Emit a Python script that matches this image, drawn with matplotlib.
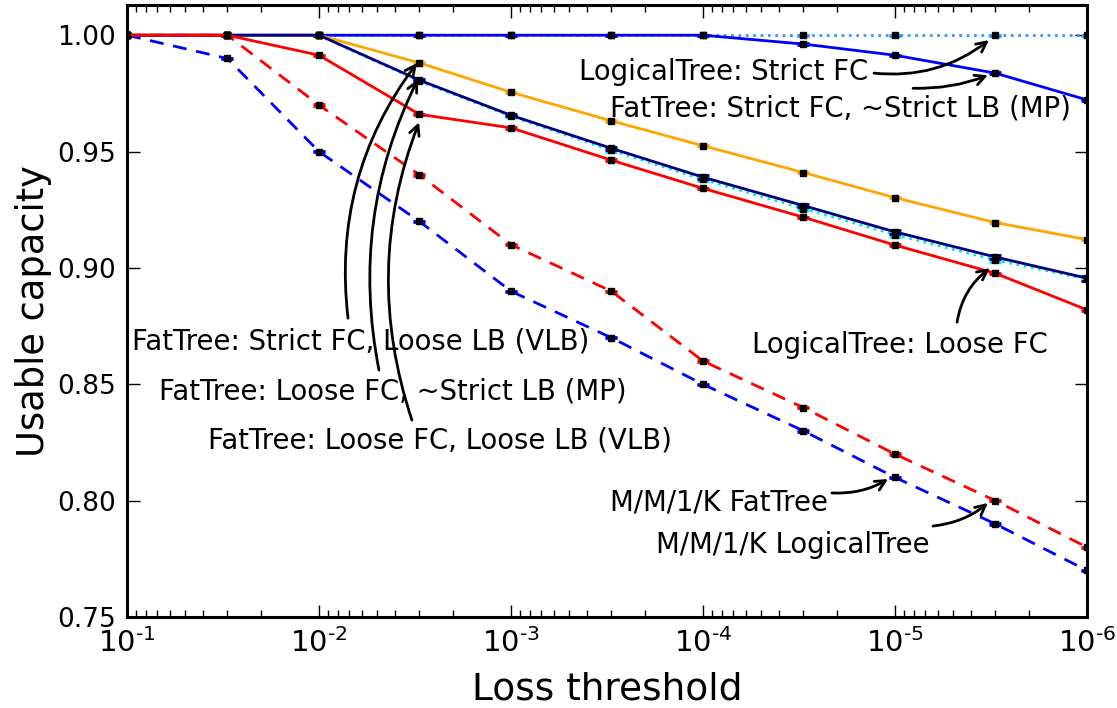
import numpy as np
import matplotlib
matplotlib.use("Agg")
import matplotlib.pyplot as plt
from matplotlib.ticker import LogLocator, NullFormatter, FixedLocator, FixedFormatter

# loss thresholds (x) - half decade steps
thresholds = [1e-1, 3e-2, 1e-2, 3e-3, 1e-3, 3e-4, 1e-4, 3e-5, 1e-5, 3e-6, 1e-6]
xticks = [1e-1, 1e-2, 1e-3, 1e-4, 1e-5, 1e-6]
xticklabels = [r'$10^{\text{-}%d}$' % k for k in range(1, 7)]

ft_strict_mp = [1.0, 1.0, 1.0, 1.0, 1.0, 1.0, 1.0, 0.9962, 0.9914, 0.9837, 0.9722]
lt_strict = [1.0, 1.0, 1.0, 1.0, 1.0, 1.0, 1.0, 1.0, 1.0, 1.0, 1.0]
ft_strict_vlb = [1.0, 1.0, 1.0, 0.9881, 0.9755, 0.9632, 0.9525, 0.9410, 0.9302, 0.9195, 0.9122]
ft_loose_mp = [1.0, 1.0, 1.0, 0.9807, 0.9656, 0.9514, 0.9390, 0.9268, 0.9155, 0.9047, 0.8956]
lt_loose = [1.0, 1.0, 1.0, 0.9802, 0.9652, 0.9505, 0.9380, 0.9255, 0.9143, 0.9034, 0.8952]
ft_loose_vlb = [1.0, 1.0, 0.9914, 0.9660, 0.9602, 0.9463, 0.9342, 0.9218, 0.9098, 0.8977, 0.8820]
mm1k_fattree = [1.0, 1.0, 0.970, 0.940, 0.910, 0.890, 0.860, 0.840, 0.820, 0.800, 0.780]
mm1k_logical = [1.0, 0.990, 0.950, 0.920, 0.890, 0.870, 0.850, 0.830, 0.810, 0.790, 0.770]

err_small = [0.0, 0.0003, 0.0003, 0.0003, 0.0003, 0.0003, 0.0003, 0.0003, 0.0003, 0.0003, 0.0003]
err_mid = [0.0, 0.0003, 0.0003, 0.0005, 0.0005, 0.0006, 0.0008, 0.0008, 0.0009, 0.001, 0.001]

series = [
    # values, errors, color, linestyle, zorder
    (lt_strict, err_small, '#3399ff', ':', 2),
    (ft_strict_mp, err_small, '#0000ff', '-', 3),
    (ft_strict_vlb, err_small, '#ffa500', '-', 3),
    (lt_loose, err_mid, '#00e5ee', ':', 2),
    (ft_loose_mp, err_mid, '#000080', '-', 3),
    (ft_loose_vlb, err_small, '#ff0000', '-', 3),
    (mm1k_fattree, err_small, '#ff0000', '--', 2),
    (mm1k_logical, err_small, '#0000ff', '--', 2),
]

labels = [
    # text, text pos, arrow start, arrow end, curvature
    ("LogicalTree: Strict FC", (7.78e-5, 0.9841), (1.285e-5, 0.9837), (3.24e-6, 0.9979), 0.2),
    ("FatTree: Strict FC, ~Strict LB (MP)", (1.93e-5, 0.9686), (8.05e-6, 0.9772), (3.28e-6, 0.9828), 0.1),
    ("FatTree: Strict FC, Loose LB (VLB)", (6.04e-3, 0.8686), (7.06e-3, 0.8784), (3.09e-3, 0.9880), -0.2),
    ("FatTree: Loose FC, ~Strict LB (MP)", (4.12e-3, 0.8467), (4.87e-3, 0.8561), (3.05e-3, 0.9811), -0.17),
    ("FatTree: Loose FC, Loose LB (VLB)", (2.34e-3, 0.8260), (3.28e-3, 0.8346), (3.01e-3, 0.9626), -0.18),
    ("LogicalTree: Loose FC", (9.42e-6, 0.8668), (4.75e-6, 0.8767), (3.2e-6, 0.8999), -0.2),
    ("M/M/1/K FatTree", (8.26e-5, 0.7994), (2.13e-5, 0.8033), (1.087e-5, 0.8093), 0.15),
    ("M/M/1/K LogicalTree", (3.40e-5, 0.7809), (6.34e-6, 0.7891), (3.28e-6, 0.7990), 0.15),
]

fig = plt.figure(figsize=(11.17, 7.08), dpi=100)
ax = fig.add_axes([0.1137, 0.1285, 0.8594, 0.8645])

for vals, errs, color, ls, z in series:
    ax.errorbar(thresholds, vals, yerr=errs, color=color, linestyle=ls, linewidth=2,
                dashes=(5, 3.5) if ls == '--' else (None if ls == '-' else (1, 1.65)),
                marker='s', markersize=4, mfc='black', mec='black',
                ecolor=color, elinewidth=2, capsize=4.5, capthick=2, zorder=z)

for text, tpos, start, end, rad in labels:
    ax.text(tpos[0], tpos[1], text, fontsize=19.8, ha='center', va='center', zorder=5)
    ax.annotate('', xy=end, xytext=start,
                arrowprops=dict(arrowstyle='->', lw=2, color='black', mutation_scale=18,
                                shrinkA=0, shrinkB=0,
                                connectionstyle='arc3,rad=%s' % rad), zorder=5)

ax.set_xscale('log')
ax.set_xlim(1e-1, 1e-6)
ax.set_ylim(0.75, 1.013)
ax.set_yticks([0.75, 0.80, 0.85, 0.90, 0.95, 1.00])
ax.set_yticklabels(['0.75', '0.80', '0.85', '0.90', '0.95', '1.00'])
ax.xaxis.set_major_locator(FixedLocator(xticks))
ax.xaxis.set_major_formatter(FixedFormatter(xticklabels))
ax.xaxis.set_minor_locator(LogLocator(base=10, subs=np.arange(2, 10)))
ax.xaxis.set_minor_formatter(NullFormatter())

ax.tick_params(which='both', direction='in', top=True, right=True, pad=8)
ax.tick_params(axis='y', labelsize=19)
ax.tick_params(axis='x', labelsize=21)
ax.tick_params(which='major', length=9, width=1)
ax.tick_params(which='minor', length=5, width=1)
for sp in ax.spines.values():
    sp.set_linewidth(2.2)

ax.set_xlabel("Loss threshold", fontsize=27, labelpad=10)
ax.set_ylabel("Usable capacity", fontsize=26.5)

fig.savefig('out.png', dpi=100)
